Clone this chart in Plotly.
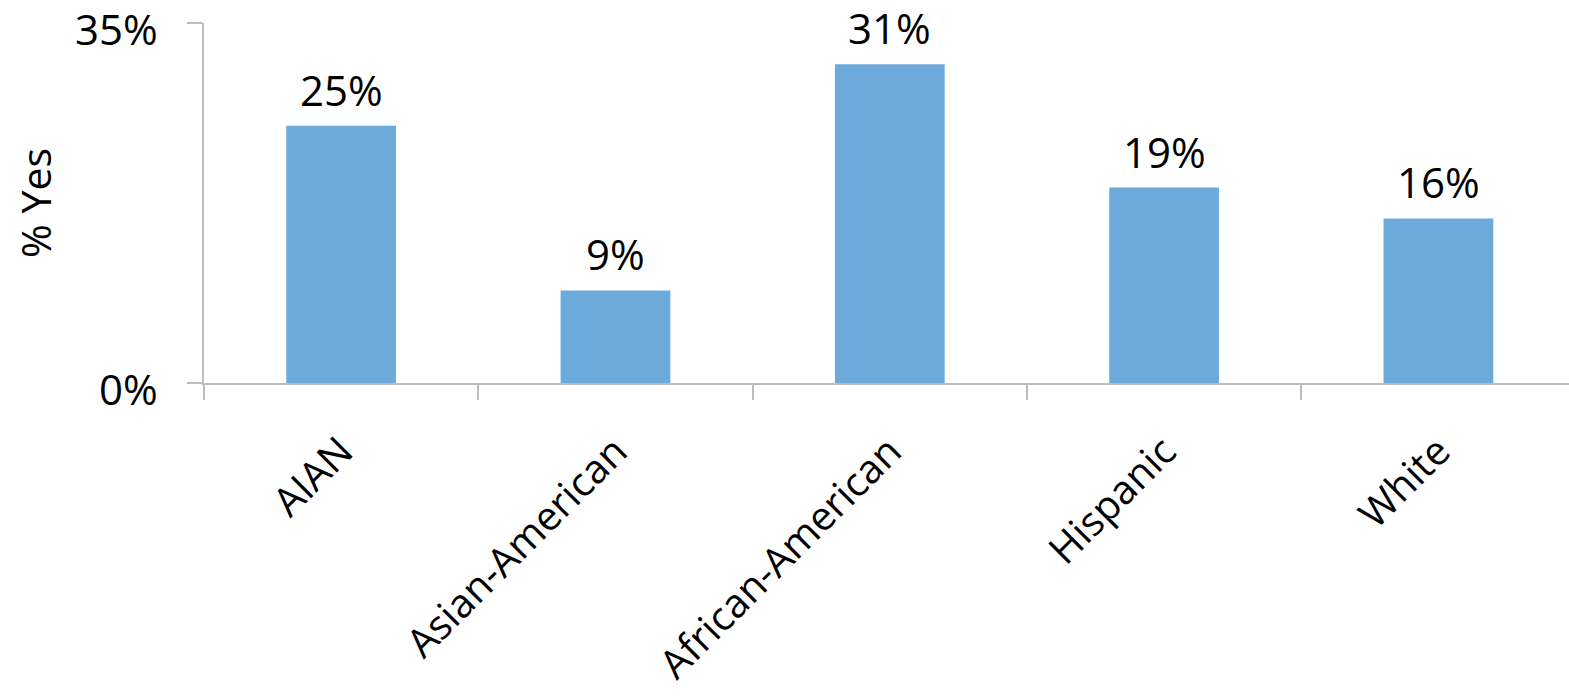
import plotly.graph_objects as go

# Share answering "yes", by group
groups = ["AIAN", "Asian-American", "African-American", "Hispanic", "White"]
pct_yes = [25, 9, 31, 19, 16]
y_ticks = [0, 35]
y_tick_labels = ["0%", "35%"]

FONT = "Open Sans"
BAR_COLOR = "#6CAADB"
AXIS_COLOR = "#BDBDBD"

fig = go.Figure(
    go.Bar(
        x=groups,
        y=pct_yes,
        width=0.4,
        marker=dict(color=BAR_COLOR, line=dict(width=0)),
        cliponaxis=False,
    )
)

# value labels above each bar
for g, v in zip(groups, pct_yes):
    fig.add_annotation(
        x=g, y=v, text=f"{v}%", showarrow=False,
        yanchor="bottom", yshift=17, height=36, valign="middle",
        font=dict(family=FONT, size=42, color="black"),
    )

# y tick labels, set slightly below their tick marks
for v, lab in zip(y_ticks, y_tick_labels):
    fig.add_annotation(
        xref="paper", x=0, y=v, text=lab, showarrow=False,
        xanchor="right", yanchor="middle", xshift=-44, yshift=-5,
        height=36, valign="middle",
        font=dict(family=FONT, size=42, color="black"),
    )

# y axis title
fig.add_annotation(
    xref="paper", yref="paper", x=0, y=0.5, text="% Yes", showarrow=False,
    textangle=-90, xanchor="center", yanchor="middle", xshift=-169,
    font=dict(family=FONT, size=41, color="black"),
)

fig.update_layout(
    width=1569,
    height=698,
    margin=dict(l=204, r=0, t=23, b=315),
    paper_bgcolor="white",
    plot_bgcolor="white",
    showlegend=False,
    font=dict(family=FONT, size=42, color="black"),
)

fig.update_xaxes(
    type="category",
    range=[-0.5, 4.476],
    automargin=False,
    showline=True,
    linecolor=AXIS_COLOR,
    linewidth=1.5,
    ticks="outside",
    tickson="boundaries",
    ticklen=15,
    tickcolor=AXIS_COLOR,
    tickwidth=1.5,
    tickangle=-45,
    ticklabelstandoff=27,
    tickfont=dict(family=FONT, size=40, color="black"),
    showgrid=False,
    zeroline=False,
)

fig.update_yaxes(
    range=[0, 35.0001],
    automargin=False,
    tickvals=y_ticks,
    showticklabels=False,
    showline=True,
    linecolor=AXIS_COLOR,
    linewidth=1.5,
    ticks="outside",
    ticklen=15,
    tickcolor=AXIS_COLOR,
    tickwidth=1.5,
    showgrid=False,
    zeroline=False,
)

fig.write_html("out.html")
